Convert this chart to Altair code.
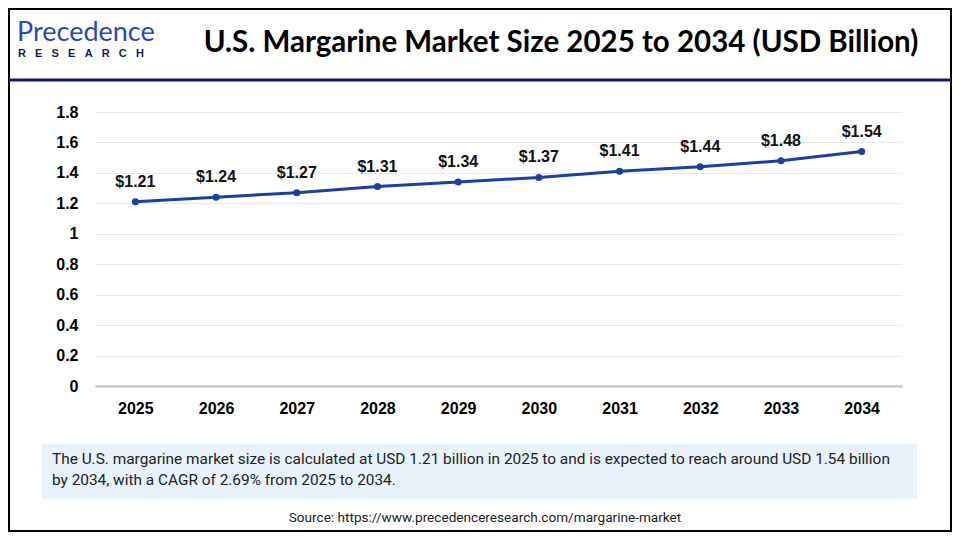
import altair as alt
import pandas as pd

years = ["2025", "2026", "2027", "2028", "2029", "2030", "2031", "2032", "2033", "2034"]
values = [1.21, 1.24, 1.27, 1.31, 1.34, 1.37, 1.41, 1.44, 1.48, 1.54]
labels = ["$1.21", "$1.24", "$1.27", "$1.31", "$1.34", "$1.37", "$1.41", "$1.44", "$1.48", "$1.54"]
y_ticks = [0, 0.2, 0.4, 0.6, 0.8, 1.0, 1.2, 1.4, 1.6, 1.8]

title_text = "U.S. Margarine Market Size 2025 to 2034 (USD Billion)"
desc_line1 = "The U.S. margarine market size is calculated at USD 1.21 billion in 2025 to and is expected to reach around USD 1.54 billion"
desc_line2 = "by 2034, with a CAGR of 2.69% from 2025 to 2034."
source_text = "Source: https://www.precedenceresearch.com/margarine-market"
logo_word = "Precedence"
logo_sub = "\u00a0\u00a0\u00a0".join(list("RESEARCH"))

df = pd.DataFrame({"year": years, "value": values, "label": labels})
one = pd.DataFrame({"a": [0]})

LINE = "#1d3f9e"
NAVY = "#141b55"
FONT = "Liberation Sans"
BODY = "Roboto"

x_enc = alt.X("year:O", title=None, sort=years,
              axis=alt.Axis(labelAngle=0, labelFont=FONT, labelFontSize=16, labelFontWeight="bold",
                            labelColor="#000000", labelPadding=14, ticks=False, domain=True,
                            domainColor="#bfbfbf", domainWidth=2, grid=False))
y_enc = alt.Y("value:Q", title=None,
              scale=alt.Scale(domain=[0, 1.8], nice=False),
              axis=alt.Axis(values=y_ticks, format=".1~f", labelFont=FONT, labelFontSize=16,
                            labelFontWeight="bold", labelColor="#000000", labelPadding=17,
                            ticks=False, domain=False, grid=True, gridColor="#e8e8e8", gridWidth=1))

line = alt.Chart(df).mark_line(color=LINE, strokeWidth=3).encode(x=x_enc, y=y_enc)
pts = alt.Chart(df).mark_point(filled=True, color=LINE, size=50, opacity=1).encode(x=x_enc, y=y_enc)
lbls = alt.Chart(df).mark_text(dy=-20, font=FONT, fontSize=16, fontWeight="bold", color="#111111",
                               baseline="middle").encode(x=x_enc, y=y_enc, text="label:N")

# frame elements (pixel positions relative to the plot area)
border = alt.Chart(one).mark_rect(fillOpacity=0, stroke="#000000", strokeWidth=2).encode(
    x=alt.value(-86), x2=alt.value(856), y=alt.value(-103), y2=alt.value(419))
header_rule = alt.Chart(one).mark_rule(color=NAVY, strokeWidth=3).encode(
    x=alt.value(-86), x2=alt.value(856), y=alt.value(-32))
box = alt.Chart(one).mark_rect(color="#e9f1fb").encode(
    x=alt.value(-53), x2=alt.value(822), y=alt.value(332), y2=alt.value(387))

title = alt.Chart(one).mark_text(text=title_text, font="Lato", fontSize=29.5, fontWeight="bold",
                                 color="#000000", align="center", baseline="middle").encode(
    x=alt.value(466), y=alt.value(-69))
logo1 = alt.Chart(one).mark_text(text=logo_word, font="Lato", fontSize=27, fontWeight="normal",
                                 color="#2747b8", align="left", baseline="alphabetic").encode(
    x=alt.value(-78), y=alt.value(-71))
logo2 = alt.Chart(one).mark_text(text=logo_sub, font=FONT, fontSize=11, fontWeight="bold",
                                 color=NAVY, align="left", baseline="alphabetic").encode(
    x=alt.value(-77), y=alt.value(-55))
d1 = alt.Chart(one).mark_text(text=desc_line1, font=BODY, fontSize=15.4, color="#222222",
                              align="left", baseline="middle").encode(x=alt.value(-43), y=alt.value(347))
d2 = alt.Chart(one).mark_text(text=desc_line2, font=BODY, fontSize=15.4, color="#222222",
                              align="left", baseline="middle").encode(x=alt.value(-43), y=alt.value(368))
src = alt.Chart(one).mark_text(text=source_text, font=BODY, fontSize=13.6, color="#222222",
                               align="center", baseline="middle").encode(x=alt.value(390), y=alt.value(406))

chart = alt.layer(border, header_rule, box, title, logo1, logo2, d1, d2, src, line, pts, lbls).properties(
    width=807, height=274,
    autosize=alt.AutoSizeParams(type="none"),
    padding={"left": 87, "top": 104, "right": 50, "bottom": 146},
    background="#ffffff",
).configure_view(stroke=None)

chart.save("out.html", embed_options={"renderer": "svg", "actions": False})
